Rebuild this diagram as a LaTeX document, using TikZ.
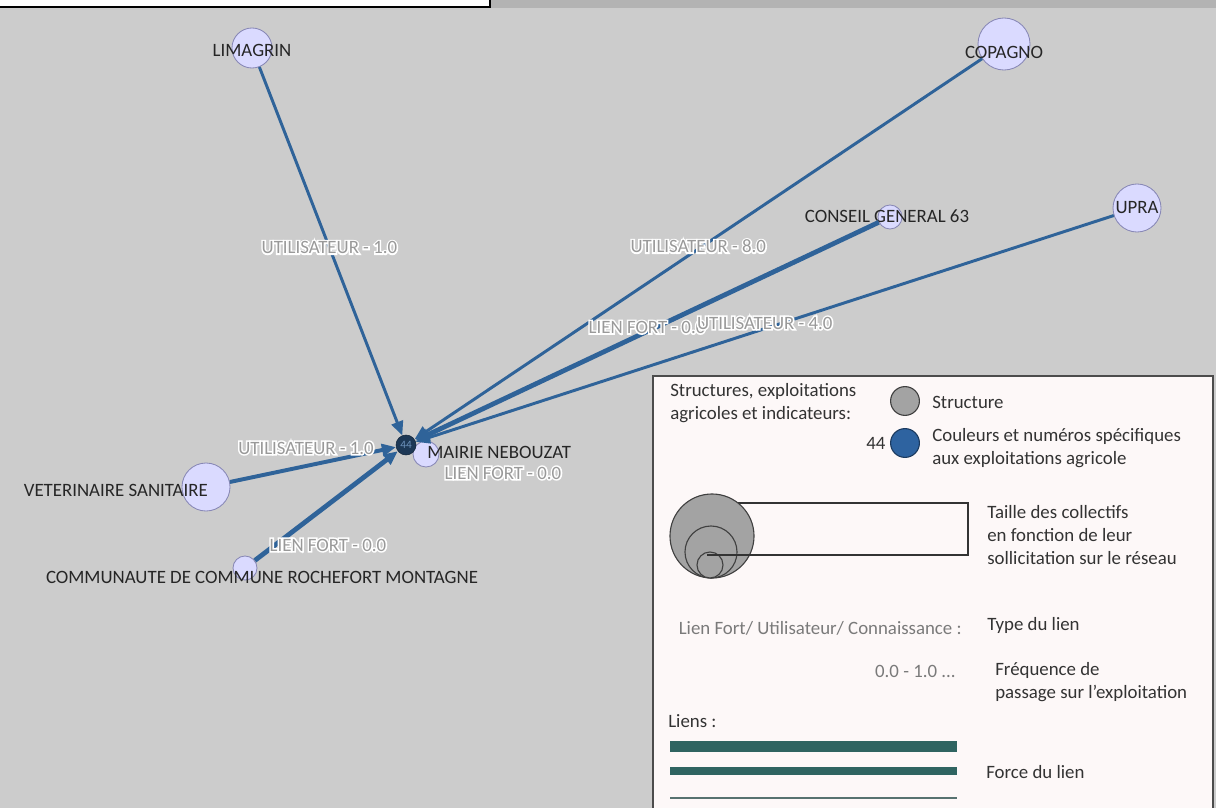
\documentclass[tikz,border=0pt]{standalone}
\usepackage{fontspec}
\setmainfont{Carlito}
\newfontfamily\halofont[FakeBold=16]{Carlito}
\usepackage{xcolor}
\definecolor{canvas}{HTML}{CCCCCC}
\definecolor{topbar}{HTML}{B3B3B3}
\definecolor{edgeblue}{HTML}{2F6399}
\definecolor{nodefill}{HTML}{DADAFF}
\definecolor{nodedraw}{HTML}{8787B5}
\definecolor{farmnavy}{HTML}{1D3856}
\definecolor{farmblue}{HTML}{2E63A0}
\definecolor{legendbg}{HTML}{FDF8F8}
\definecolor{liengreen}{HTML}{2F6461}
\definecolor{structgray}{HTML}{A3A3A3}
\definecolor{labgray}{HTML}{262626}
\definecolor{elabgray}{HTML}{999999}
\definecolor{legtext}{HTML}{333333}
\usetikzlibrary{arrows.meta,positioning}

\begin{document}
\begin{tikzpicture}[
		x=0.025cm, y=-0.025cm,
		ent/.style={circle, draw=nodedraw, fill=nodefill, line width=0.6pt, inner sep=0pt},
		lab/.style={text=labgray, font=\fontsize{13.4}{15}\selectfont, inner sep=0pt},
		lien/.style={draw=edgeblue, line width=2.1pt, -{Triangle[length=10pt,width=8.5pt]}},
		fort/.style={lien, line width=3.4pt},
		elab/.style={text=white, font=\halofont\fontsize{13.4}{15}\selectfont, inner sep=1pt,
			label={[text=elabgray, font=\fontsize{13.4}{15}\selectfont, inner sep=1pt]center:#1}},
		leg/.style={text=legtext, font=\fontsize{13.4}{16.5}\selectfont, anchor=west, align=left, inner sep=0pt},
		bulle/.style={circle, draw=black!75, fill=structgray, line width=0.8pt, inner sep=0pt}
	]
		\fill[canvas] (0,0) rectangle (1216,808);
		\useasboundingbox (0,0) rectangle (1216,808);
		\fill[topbar] (490,0) rectangle (1216,8);
		\draw[fill=white, line width=0.9pt] (-2,-2) rectangle (490,7);

		\node[ent, minimum size=1.0cm] (limagrin) at (252,48) {};
		\node[ent, minimum size=1.3cm] (copagno) at (1004,44) {};
		\node[ent, minimum size=0.6cm] (conseil) at (890,217) {};
		\node[ent, minimum size=1.2cm] (upra) at (1137,208) {};
		\node[ent, minimum size=0.65cm] (mairie) at (426,454) {};
		\node[ent, minimum size=1.2cm] (veto) at (206,487) {};
		\node[ent, minimum size=0.6cm] (comcom) at (245,568) {};

		\node[lab] at (252,50) {LIMAGRIN};
		\node[lab] at (1004,52) {COPAGNO};
		\node[lab] at (887,216) {CONSEIL GENERAL 63};
		\node[lab] at (1137,208) {UPRA};
		\node[lab, anchor=west] at (427,452) {MAIRIE NEBOUZAT};
		\node[lab, anchor=east] at (208,490) {VETERINAIRE SANITAIRE};
		\node[lab] at (262,577) {COMMUNAUTE DE COMMUNE ROCHEFORT MONTAGNE};

		\node[circle, fill=farmnavy, draw=farmnavy!70!black, minimum size=0.5cm, inner sep=0pt,
			text=farmblue!70, font=\fontsize{8}{8}\selectfont] (n44) at (406,445) {44};

		\draw[lien] (limagrin) -- (n44) node[elab=UTILISATEUR - 1.0, pos=0.49] {UTILISATEUR - 1.0};
		\draw[lien] (copagno) -- (n44) node[elab=UTILISATEUR - 8.0, pos=0.5, yshift=2pt] {UTILISATEUR - 8.0};
		\draw[fort] (conseil) -- (n44) node[elab=LIEN FORT - 0.0, pos=0.5, yshift=3pt] {LIEN FORT - 0.0};
		\draw[lien] (upra) -- (n44) node[elab=UTILISATEUR - 4.0, pos=0.5, yshift=4pt] {UTILISATEUR - 4.0};
		\draw[lien, line width=2.8pt] (veto) -- (n44);
		\draw[fort] (comcom) -- (n44);
		\node[elab=UTILISATEUR - 1.0] at (306,448) {UTILISATEUR - 1.0};
		\node[elab=LIEN FORT - 0.0] at (328,545) {LIEN FORT - 0.0};
		\node[elab=LIEN FORT - 0.0] at (503,473) {LIEN FORT - 0.0};

		\draw[fill=legendbg, draw=black!70, line width=0.9pt] (653,376) rectangle (1213,815);
		\node[leg] at (670,403) {Structures, exploitations\\agricoles et indicateurs:};
		\node[bulle, minimum size=0.72cm] (bstruct) at (905,401) {};
		\node[leg] at (932,402) {Structure};
		\node[circle, fill=farmblue, draw=farmblue!60!black, line width=0.8pt, minimum size=0.72cm, inner sep=0pt] (bfarm) at (905,443) {};
		\node[leg, anchor=east, left=3pt of bfarm] {44};
		\node[leg] at (932,448) {Couleurs et numéros spécifiques\\aux exploitations agricole};

		\draw[line width=0.9pt, draw=black!80] (712,503) rectangle (968,555);
		\node[bulle, minimum size=2.1cm] (taille1) at (712,536) {};
		\node[bulle, minimum size=1.3cm] (taille2) at (711,552) {};
		\node[bulle, minimum size=0.65cm] (taille3) at (710,565) {};
		\draw[line width=0.9pt, draw=black!80] (707,555) -- (968,555);
		\node[leg] at (987,535) {Taille des collectifs\\en fonction de leur\\sollicitation sur le réseau};

		\node[leg, anchor=east, text=elabgray!80!black] at (962,628) {Lien Fort/ Utilisateur/ Connaissance :};
		\node[leg] at (987,625) {Type du lien};
		\node[leg, anchor=east, text=elabgray!80!black] at (956,671) {0.0 - 1.0 ...};
		\node[leg] at (995,682) {Fréquence de\\passage sur l'exploitation};

		\node[leg] at (668,721) {Liens :};
		\draw[liengreen, line width=7.8pt] (670,746.5) -- (957,746.5);
		\draw[liengreen, line width=5pt] (670,771) -- (957,771);
		\draw[liengreen!50!gray, line width=1.8pt] (670,798) -- (957,798);
		\node[leg] at (986,772) {Force du lien};
	\end{tikzpicture}
\end{document}
